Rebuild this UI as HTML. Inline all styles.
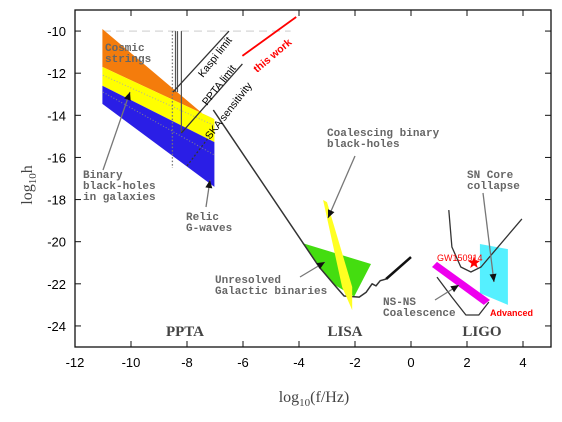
<!DOCTYPE html>
<html><head><meta charset="utf-8"><style>
html,body{margin:0;padding:0;background:#fff;}
svg{display:block;font-family:"Liberation Sans",sans-serif;}
.g{font-family:"Liberation Mono",monospace;font-weight:bold;fill:#666;font-size:11px;}
</style></head><body>
<svg id="c" width="562" height="422" viewBox="0 0 562 422">
<g id="marks"></g>
<g id="axes"></g>
</svg>
<script>
const xTicks=[-12,-10,-8,-6,-4,-2,0,2,4];
const yTicks=[-10,-12,-14,-16,-18,-20,-22,-24];
const orangeRegion=[[-11.02,-9.9],[-7.38,-13.99],[-7.02,-14.18],[-11.02,-11.7]];
const yellowRegion=[[-11.02,-11.7],[-7.02,-14.18],[-7.02,-15.27],[-11.02,-12.6]];
const blueRegion=[[-11.02,-12.6],[-7.02,-15.27],[-7.02,-17.4],[-11.02,-13.46]];
const lisaCurve=[[-7.06,-13.75],[-3.28,-21.2],[-2.67,-22.15],[-2.39,-22.58],[-1.85,-22.63],[-1.6,-22.4],[-1.39,-22.0],[-1.25,-22.1],[-1.1,-21.85],[-0.89,-21.77]];
const lisaTail=[[-0.89,-21.77],[0,-20.73]];
const greenRegion=[[-3.89,-20.06],[-1.43,-21.06],[-2.03,-22.6],[-2.8,-22.0]];
const lisaBand=[[-3.14,-18.02],[-3.0,-18.12],[-2.1,-22.15],[-2.1,-23.25],[-2.46,-22.15]];
const magentaBand=[[0.75,-21.2],[0.93,-20.96],[2.82,-22.77],[2.6,-23.0]];
const cyanRegion=[[2.46,-20.11],[3.46,-20.35],[3.46,-23.0],[2.46,-22.44]];
const ligoUpper=[[1.35,-18.5],[1.46,-20.25],[1.78,-21.2],[2.14,-21.44],[2.5,-21.2],[3.96,-18.92]];
const ligoLower=[[0.93,-21.68],[1.46,-22.63],[1.96,-23.48],[2.42,-23.48],[2.78,-22.87]];
const gwStar=[2.25,-21.0];
const kaspiLine=[[-8.5,-12.9],[-6.5,-10]];
const pptaLine=[[-8.2,-14.84],[-6.02,-11.56]];
const thisWork=[[-6.02,-11.18],[-4.1,-9.33]];
const skaLine=[[-8.0,-16.4],[-7.2,-15.0]];

const S='http://www.w3.org/2000/svg';
const L=75,R=551,T=10,B=347;
function X(v){return L+(v+12)*(R-L)/17;}
function Y(v){return T+(-9-v)*(B-T)/16;}
const marks=document.getElementById('marks'),axes=document.getElementById('axes');
function mk(tag,at,par,name){const e=document.createElementNS(S,tag);for(const k in at)e.setAttribute(k,at[k]);


(par||marks).appendChild(e);return e;}
function pts(a){return a.map(p=>X(p[0]).toFixed(1)+','+Y(p[1]).toFixed(1)).join(' ');}
function poly(a,fill,name){return mk('polygon',{points:pts(a),fill:fill},marks,name);}
function line(a,st,w,name,dash){const at={points:pts(a),fill:'none',stroke:st,'stroke-width':w,'stroke-linejoin':'round'};if(dash)at['stroke-dasharray']=dash;return mk('polyline',at,marks,name);}
function txt(x,y,s,cls,name,extra){const e=mk('text',Object.assign({x:x,y:y},extra||{}),marks,name);if(cls)e.setAttribute('class',cls);e.textContent=s;return e;}
function arrow(x1,y1,x2,y2,name){mk('line',{x1:x1,y1:y1,x2:x2,y2:y2,stroke:'#777','stroke-width':1.3},marks,name);
const a=Math.atan2(y2-y1,x2-x1),l=8,w=3.5;
const p=[[x2,y2],[x2-l*Math.cos(a)+w*Math.sin(a),y2-l*Math.sin(a)-w*Math.cos(a)],[x2-l*Math.cos(a)-w*Math.sin(a),y2-l*Math.sin(a)+w*Math.cos(a)]];
mk('polygon',{points:p.map(q=>q.join(',')).join(' '),fill:'#111'},marks,name+'-head');}

mk('line',{x1:X(-11),y1:Y(-10),x2:X(-4.3),y2:Y(-10),stroke:'#ddd','stroke-width':1.5,'stroke-dasharray':'8,5'},marks,'top-dashed-line');
poly(orangeRegion,'#f47c0c','cosmic-strings-region');
poly(yellowRegion,'#ffff00','yellow-region');
poly(blueRegion,'#2a1ee6','relic-gw-region');
line([[-11,-12.1],[-7,-14.5]],'#aaa',1,'dotted-guide','1,2');
line([[-11,-12.9],[-7,-15.9]],'#888',1,'dotted-guide-2','1,2');
line([[-8.52,-10],[-8.52,-16.5]],'#777',1.3,'vertical-dotted-limit','1.5,2');
line([[-8.41,-10],[-8.41,-12.9]],'#555',1.2,'vertical-limit-1');
line([[-8.34,-10],[-8.34,-12.9]],'#555',1.2,'vertical-limit-2');
line([[-8.2,-10],[-8.2,-14.84]],'#555',1.2,'vertical-limit-3');
line(kaspiLine,'#333',1.3,'kaspi-limit-line');
line(pptaLine,'#333',1.3,'ppta-limit-line');
line(thisWork,'#f00',1.8,'this-work-line');
line(skaLine,'#333',1.3,'ska-sensitivity-line','2,2');
poly(greenRegion,'#44dd10','galactic-binaries-region');
line(lisaCurve,'#333',1.5,'lisa-sensitivity-curve');
poly(lisaBand,'#ffff22','coalescing-bh-band');
line(lisaTail,'#111',2.5,'lisa-noise-tail');
poly(cyanRegion,'#55f0ff','sn-core-collapse-region');
poly(magentaBand,'#ee00ee','ns-ns-band');
line(ligoUpper,'#333',1.3,'ligo-initial-curve');
line(ligoLower,'#333',1.3,'ligo-advanced-curve');
(function(){const cx=X(gwStar[0]),cy=Y(gwStar[1]);let p=[];for(let i=0;i<10;i++){const r=i%2?2.6:6.5,a=-Math.PI/2+i*Math.PI/5;p.push((cx+r*Math.cos(a)).toFixed(1)+','+(cy+r*Math.sin(a)).toFixed(1));}
mk('polygon',{points:p.join(' '),fill:'#f00'},marks,'gw150914-star');})();
txt(0,0,'Kaspi limit',null,'kaspi-limit-label',{transform:'translate(203,78) rotate(-52)','font-size':'10.5'});
txt(0,0,'PPTA limit',null,'ppta-limit-label',{transform:'translate(207,106) rotate(-52)','font-size':'10.5'});
txt(0,0,'this work',null,'this-work-label',{transform:'translate(257,73) rotate(-40)','font-size':'10.5',fill:'#f00','font-weight':'bold'});
txt(0,0,'SKA sensitivity',null,'ska-sensitivity-label',{transform:'translate(210,140) rotate(-52)','font-size':'10.5'});
txt(437,261,'GW150914',null,'gw150914-label',{'font-size':'9',fill:'#f00'});
txt(490,316,'Advanced',null,'advanced-label',{'font-size':'9',fill:'#f00','font-weight':'bold'});
txt(105,51,'Cosmic','g','cosmic-strings-label');txt(105,62,'strings','g','cosmic-strings-label-2');
txt(83,178,'Binary','g','binary-bh-label');txt(83,189,'black-holes','g','binary-bh-label-2');txt(83,200,'in galaxies','g','binary-bh-label-3');
txt(186,220,'Relic','g','relic-label');txt(186,231,'G-waves','g','relic-label-2');
txt(327,136,'Coalescing binary','g','coalescing-label');txt(327,147,'black-holes','g','coalescing-label-2');
txt(215,283,'Unresolved','g','unresolved-label');txt(215,294,'Galactic binaries','g','unresolved-label-2');
txt(467,178,'SN Core','g','sn-label');txt(467,189,'collapse','g','sn-label-2');
txt(383,305,'NS-NS','g','nsns-label');txt(383,316,'Coalescence','g','nsns-label-2');
arrow(103,170,130,92,'binary-arrow');arrow(206,207,210,180,'relic-arrow');
arrow(355,156,328,218,'coalescing-arrow');arrow(300,277,325,262,'unresolved-arrow');
arrow(483,193,494,282,'sn-arrow');arrow(435,300,459,285,'nsns-arrow');
txt(185,336,'PPTA',null,'ppta-title',{'font-family':'Liberation Serif,serif','font-size':'15','fill':'#444','font-weight':'bold','text-anchor':'middle'});
txt(345,336,'LISA',null,'lisa-title',{'font-family':'Liberation Serif,serif','font-size':'15','fill':'#444','font-weight':'bold','text-anchor':'middle'});
txt(482,336,'LIGO',null,'ligo-title',{'font-family':'Liberation Serif,serif','font-size':'15','fill':'#444','font-weight':'bold','text-anchor':'middle'});
mk('rect',{x:L,y:T,width:R-L,height:B-T,fill:'none',stroke:'#111','stroke-width':1.3},axes,'plot-frame');
xTicks.forEach(v=>{const x=X(v);
mk('line',{x1:x,y1:B,x2:x,y2:B-6,stroke:'#111'},axes,'x-tick');
mk('line',{x1:x,y1:T,x2:x,y2:T+6,stroke:'#111'},axes,'x-tick-top');
const t=mk('text',{x:x,y:B+20,'text-anchor':'middle','font-size':'13'},axes,'x-tick-label');t.textContent=v;});
yTicks.forEach(v=>{const y=Y(v);
mk('line',{x1:L,y1:y,x2:L+6,y2:y,stroke:'#111'},axes,'y-tick');
mk('line',{x1:R,y1:y,x2:R-6,y2:y,stroke:'#111'},axes,'y-tick-right');
const t=mk('text',{x:L-9,y:y+5,'text-anchor':'end','font-size':'13'},axes,'y-tick-label');t.textContent=v;});
const yl=mk('text',{transform:'translate(32,185) rotate(-90)','text-anchor':'middle','font-size':'16','font-family':'Liberation Serif,serif',fill:'#444'},axes,'y-axis-title');
yl.innerHTML='log<tspan font-size="11" dy="4">10</tspan><tspan dy="-4">h</tspan>';
const xl=mk('text',{x:314,y:402,'text-anchor':'middle','font-size':'16','font-family':'Liberation Serif,serif',fill:'#444'},axes,'x-axis-title');
xl.innerHTML='log<tspan font-size="11" dy="4">10</tspan><tspan dy="-4">(f/Hz)</tspan>';
</script>
</body></html>
